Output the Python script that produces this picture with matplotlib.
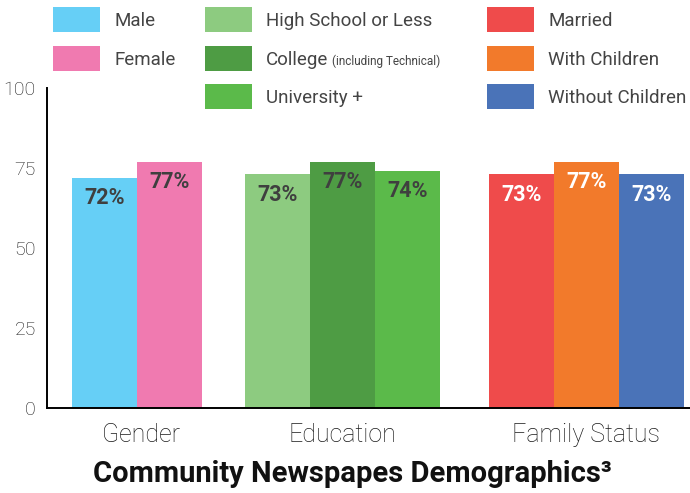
import matplotlib
matplotlib.use("Agg")
import matplotlib.pyplot as plt
from matplotlib.patches import Rectangle

# ---- data ----
groups = ["Gender", "Education", "Family Status"]
series_labels = [["Male", "Female"],
                 ["High School or Less", "College", "University +"],
                 ["Married", "With Children", "Without Children"]]
series_values = [[72, 77], [73, 77, 74], [73, 77, 73]]
series_colors = [["#66CFF6", "#F07AB0"],
                 ["#8DCB80", "#4E9C44", "#5BBA4A"],
                 ["#EF4B4B", "#F27A2B", "#4A73B8"]]
label_colors = [["#3f3f3f", "#3f3f3f"],
                ["#3f3f3f", "#3f3f3f", "#3f3f3f"],
                ["white", "white", "white"]]
yticks = [0, 25, 50, 75, 100]
title = "Community Newspapes Demographics\u00b3"

FAM = ["Roboto", "DejaVu Sans"]
plt.rcParams["font.family"] = FAM

W, H = 690, 493
fig = plt.figure(figsize=(W / 100, H / 100), dpi=100)

def fx(px):
    return px / W

def fy(py):
    return 1 - py / H

ax = fig.add_axes([fx(47), fy(408), fx(690) - fx(47), fy(88) - fy(408)])

group_starts = [0.385, 3.05, 6.8]
centers = []
for g, start in enumerate(group_starts):
    vals = series_values[g]
    xs = [start + i + 0.5 for i in range(len(vals))]
    ax.bar(xs, vals, width=1.0, color=series_colors[g], linewidth=0)
    for x, v, c in zip(xs, vals, label_colors[g]):
        ax.text(x, v - 6.3, f"{v}%", ha="center", va="center", color=c,
                fontsize=15.5, fontweight="bold")
    centers.append(start + len(vals) / 2)

ax.set_xlim(0, 643 / 65)
ax.set_ylim(0, 100)
ax.set_xticks([centers[0] + 0.06, centers[1], centers[2]])
ax.set_xticklabels(groups, fontsize=18, color="#1a1a1a", fontweight="light")
ax.set_yticks(yticks)
ax.set_yticklabels([str(t) for t in yticks], fontsize=14, color="#1a1a1a", fontweight="light")
ax.tick_params(axis="x", length=0, pad=11)
ax.tick_params(axis="y", length=0, pad=8)
for s in ["top", "right"]:
    ax.spines[s].set_visible(False)
ax.spines["left"].set_linewidth(1.4)
ax.spines["bottom"].set_linewidth(1.4)

fig.text(fx(352), fy(474), title, ha="center", va="center", fontsize=21,
         fontweight="bold", color="#111111")

# ---- legend (manual) ----
col_x = [53, 205, 487]
row_y = [7, 46, 84]
sw_w, sw_h = 47, 25
fig.canvas.draw()
renderer = fig.canvas.get_renderer()
for g in range(3):
    for r, (lab, colr) in enumerate(zip(series_labels[g], series_colors[g])):
        x0, y0 = col_x[g], row_y[r]
        fig.add_artist(Rectangle((fx(x0), fy(y0 + sw_h)), fx(sw_w), sw_h / H,
                                 transform=fig.transFigure, color=colr, linewidth=0))
        t = fig.text(fx(x0 + 61), fy(y0 + sw_h / 2 + 6.5), lab, ha="left",
                     va="baseline", fontsize=13.5, color="#444444")
        if lab == "College":
            bb = t.get_window_extent(renderer)
            fig.text(bb.x1 / W + fx(4), fy(y0 + sw_h / 2 + 6.5), "(including Technical)",
                     ha="left", va="baseline", fontsize=8.5, color="#444444")

fig.savefig("out.png", dpi=100)
